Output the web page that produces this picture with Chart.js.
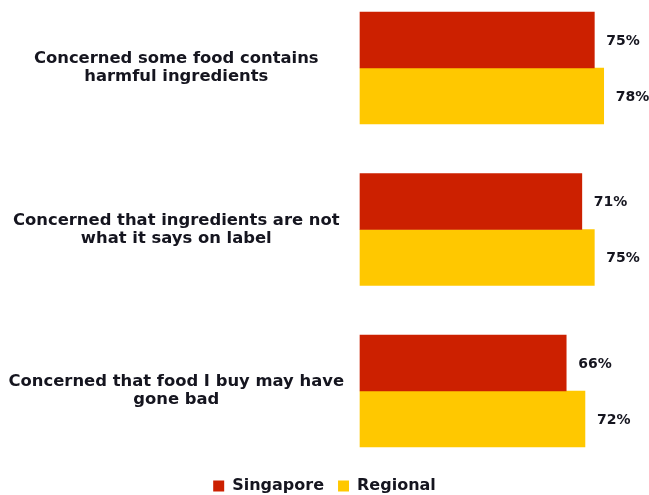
<!DOCTYPE html>
<html>
<head>
<meta charset="utf-8">
<script src="https://cdn.jsdelivr.net/npm/chart.js@4"></script>
<style>
  html, body { margin: 0; padding: 0; background: #fff; }
  #wrap { width: 649px; height: 495px; position: relative; }
</style>
</head>
<body>
<div id="wrap"><canvas id="foodChart"></canvas></div>
<script>
// data
const categories = [
    ['Concerned some food contains', 'harmful ingredients'],
    ['Concerned that ingredients are not', 'what it says on label'],
    ['Concerned that food I buy may have', 'gone bad']
];
const seriesNames = ['Singapore', 'Regional'];
const singapore = [75, 71, 66];
const regional = [78, 75, 72];

const FONT = "'DejaVu Sans', sans-serif";
const TEXT = '#15151f';

// percent labels to the right of each bar
const valueLabels = {
    id: 'valueLabels',
    afterDatasetsDraw(chart) {
        const ctx = chart.ctx;
        ctx.save();
        ctx.font = 'bold 14px ' + FONT;
        ctx.fillStyle = TEXT;
        ctx.textAlign = 'left';
        ctx.textBaseline = 'middle';
        chart.data.datasets.forEach((ds, i) => {
            chart.getDatasetMeta(i).data.forEach((bar, j) => {
                ctx.fillText(ds.data[j].x + '%', bar.x + 12, bar.y + 1);
            });
        });
        ctx.restore();
    }
};

const toPoints = arr => arr.map((v, i) => ({ x: v, y: i }));

new Chart(document.getElementById('foodChart'), {
    type: 'bar',
    data: {
        datasets: [
            { label: seriesNames[0], data: toPoints(singapore), backgroundColor: '#CC2000', clip: false },
            { label: seriesNames[1], data: toPoints(regional), backgroundColor: '#FFC800', clip: false }
        ]
    },
    options: {
        indexAxis: 'y',
        responsive: true,
        maintainAspectRatio: false,
        animation: false,
        barThickness: 56,
        layout: { padding: { top: 0, right: 0, left: 0, bottom: -9 } },
        scales: {
            x: { display: false, min: 0, max: 92.5 },
            y: {
                type: 'linear',
                offset: false,
                reverse: true,
                min: -0.26,
                max: 2.452,
                grid: { display: false },
                border: { display: false },
                afterFit: scale => { scale.width = 360; },
                ticks: {
                    stepSize: 1,
                    includeBounds: false,
                    crossAlign: 'center',
                    padding: 8,
                    color: TEXT,
                    font: { family: FONT, size: 16.4, weight: 'bold', lineHeight: 1.1 },
                    callback: v => categories[v] || ''
                }
            }
        },
        plugins: {
            legend: {
                position: 'bottom',
                labels: {
                    boxWidth: 11,
                    boxHeight: 11,
                    padding: 14,
                    color: TEXT,
                    font: { family: FONT, size: 16, weight: 'bold' }
                }
            },
            tooltip: { enabled: false }
        }
    },
    plugins: [valueLabels]
});
</script>
</body>
</html>
